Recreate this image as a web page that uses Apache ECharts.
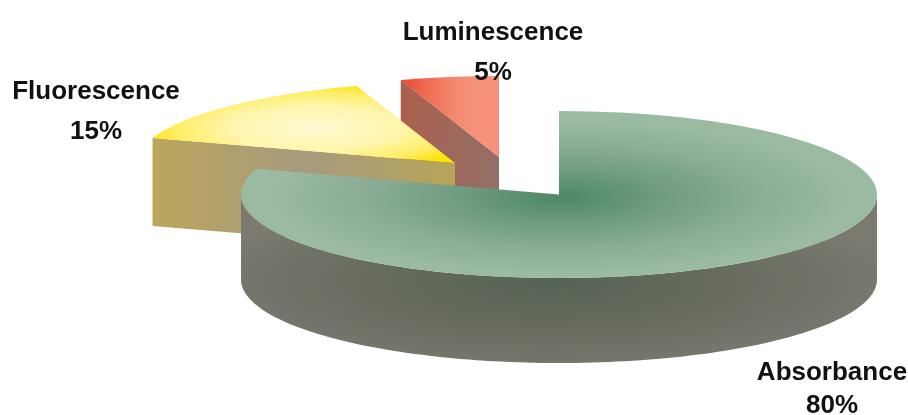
<!DOCTYPE html>
<html>
<head>
<meta charset="utf-8">
<style>html,body{margin:0;padding:0;background:#fff}#chart{width:908px;height:415px}</style>
<script src="https://cdn.jsdelivr.net/npm/echarts@6/dist/echarts.min.js"></script>
</head>
<body>
<div id="chart"></div>
<script>
// Share of detection methods, clockwise from twelve o'clock.
const sliceNames = ['Absorbance', 'Fluorescence', 'Luminescence'];
const sliceValues = [80, 15, 5];

const { RadialGradient, LinearGradient } = echarts.graphic;

// Drawing setup of each wedge: exploded centre, ellipse radii, extrusion and shading.
const wedgeStyles = [
  {
    cx: 559, cy: 194.5, rx: 318, ry: 83.5, depth: 85, z: 30,
    label: [832, 389.5], lineHeight: 33,
    top: { gx: 560, gy: 197, gr: 290, stops: [[0, '#4e8767'], [0.35, '#6f9c80'], [0.7, '#8cae96'], [1, '#9abaa1']] },
    wall: { gx: 548, gy: 282, gr: 345, stops: [[0, '#566455'], [0.5, '#666b5e'], [1, '#7b7970']] }
  },
  {
    cx: 455, cy: 163, rx: 318, ry: 81, depth: 88, z: 20,
    label: [96, 112], lineHeight: 40,
    top: { gx: 315, gy: 128, gr: 172, stops: [[0, '#fff9d2'], [0.5, '#fff5ac'], [0.82, '#ffee62'], [1, '#fde306']] },
    face: [[0, '#bba65c'], [0.5, '#a89a7e'], [1, '#b6a558']]
  },
  {
    cx: 499, cy: 157, rx: 318, ry: 81, depth: 88, z: 10,
    label: [493, 53], lineHeight: 40,
    topLinear: [[0, '#e9432e'], [0.3, '#ef6a50'], [0.7, '#f58a70'], [1, '#f59279']],
    face: [[0, '#aa604c'], [1, '#946f68']]
  }
];

const toRad = (d) => (d - 90) * Math.PI / 180;
const totalValue = sliceValues.reduce((a, b) => a + b, 0);

function renderWedge(params, api) {
  const i = params.dataIndex;
  const s = wedgeStyles[i];
  let before = 0;
  for (let n = 0; n < i; n++) before += sliceValues[n];
  const start = before / totalValue * 360;
  const end = (before + api.value(0)) / totalValue * 360;
  const k = s.ry / s.rx;
  const children = [];
  const group = [];

  // Everything inside a squashed group is laid out as a true circle.
  const localY = (y) => (y - s.cy) / k;
  const depthLocal = s.depth / k;

  // Curved outer wall along the front half of the ellipse.
  const frontFrom = Math.max(start, 90), frontTo = Math.min(end, 270);
  if (s.wall && frontTo > frontFrom) {
    const pts = [];
    const steps = 120;
    for (let n = 0; n <= steps; n++) {
      const a = toRad(frontFrom + (frontTo - frontFrom) * n / steps);
      pts.push([s.cx + s.rx * Math.cos(a), s.rx * Math.sin(a)]);
    }
    const bottom = pts.slice().reverse().map((p) => [p[0], p[1] + depthLocal]);
    children.push({
      type: 'polygon', z2: s.z,
      shape: { points: pts.concat(bottom) },
      style: { fill: new RadialGradient(s.wall.gx, localY(s.wall.gy), s.wall.gr,
        s.wall.stops.map((c) => ({ offset: c[0], color: c[1] })), true) }
    });
  }

  // Flat cut face of an exploded wedge, seen along its starting edge.
  if (s.face) {
    const a = toRad(start);
    const ex = s.cx + s.rx * Math.cos(a), ey = s.rx * Math.sin(a);
    children.push({
      type: 'polygon', z2: s.z,
      shape: { points: [[ex, ey], [s.cx, 0], [s.cx, depthLocal], [ex, ey + depthLocal]] },
      style: { fill: new LinearGradient(ex, 0, s.cx, 0,
        s.face.map((c) => ({ offset: c[0], color: c[1] })), true) }
    });
  }

  // Top surface.
  let topFill;
  if (s.top) {
    topFill = new RadialGradient(s.top.gx, localY(s.top.gy), s.top.gr,
      s.top.stops.map((c) => ({ offset: c[0], color: c[1] })), true);
  } else {
    const a = toRad(start);
    topFill = new LinearGradient(s.cx + s.rx * Math.cos(a), 0, s.cx - 18, 0,
      s.topLinear.map((c) => ({ offset: c[0], color: c[1] })), true);
  }
  children.push({
    type: 'sector', z2: s.z + 1,
    shape: { cx: s.cx, cy: 0, r: s.rx, r0: 0, startAngle: toRad(start), endAngle: toRad(end), clockwise: true },
    style: { fill: topFill }
  });

  group.push({ type: 'group', x: 0, y: s.cy, scaleX: 1, scaleY: k, children });

  // Name and percentage under one another.
  group.push({
    type: 'text', z2: 50,
    x: s.label[0], y: s.label[1],
    style: {
      text: sliceNames[i] + '\n' + api.value(0) + '%',
      align: 'center', verticalAlign: 'middle',
      fontFamily: '"Liberation Sans", Arial, sans-serif',
      fontWeight: 'bold', fontSize: 26, lineHeight: s.lineHeight, fill: '#111'
    }
  });

  return { type: 'group', children: group };
}

const chart = echarts.init(document.getElementById('chart'), null, { renderer: 'canvas' });
chart.setOption({
  animation: false,
  backgroundColor: '#fff',
  series: [{
    type: 'custom',
    coordinateSystem: 'none',
    renderItem: renderWedge,
    silent: true,
    data: sliceValues.map((v, idx) => ({ name: sliceNames[idx], value: [v] }))
  }]
});
</script>
</body>
</html>
